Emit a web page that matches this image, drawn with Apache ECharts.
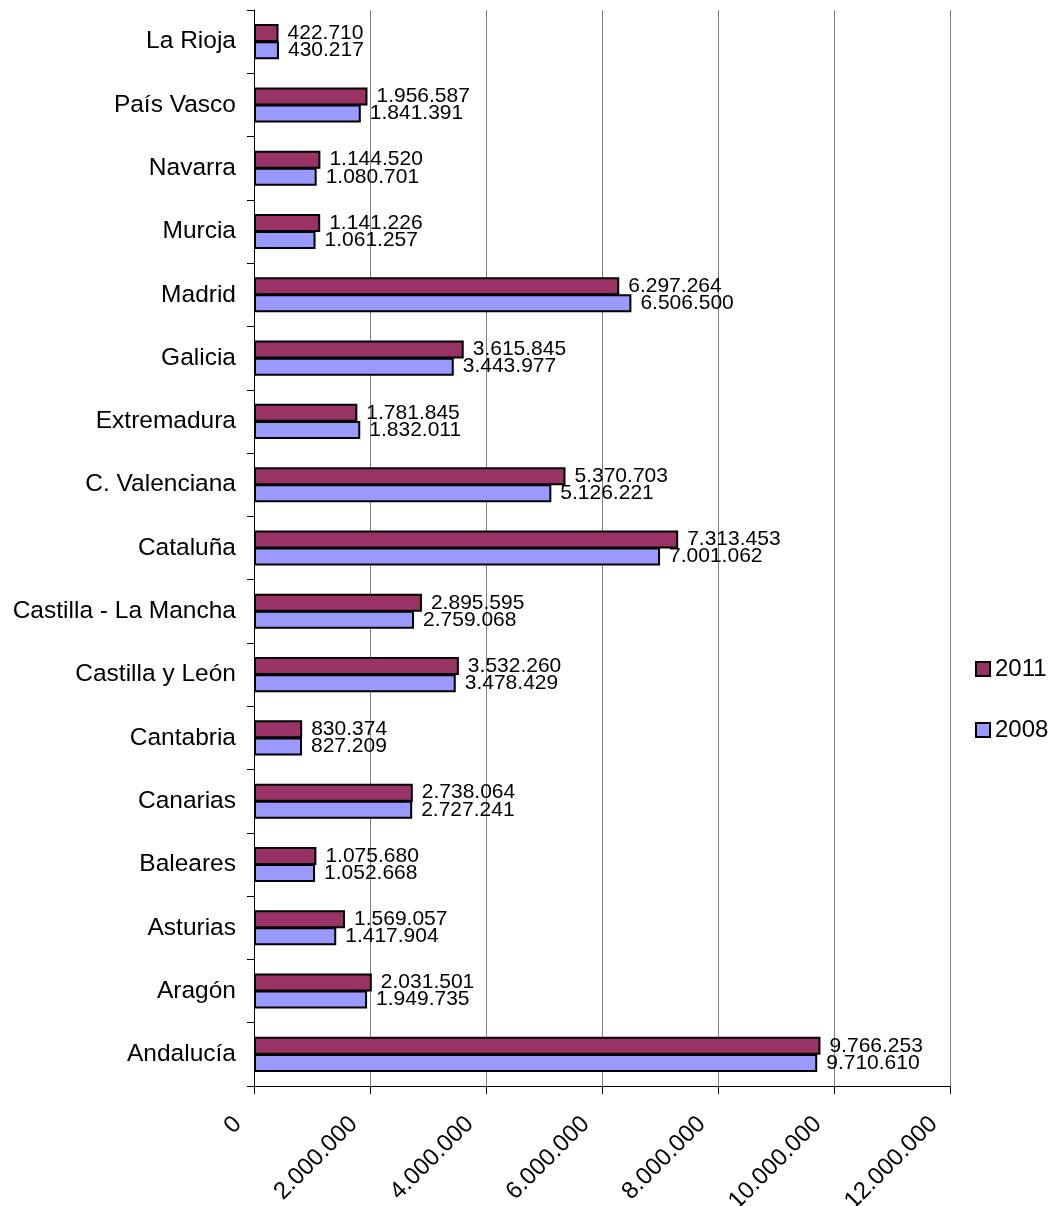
<!DOCTYPE html>
<html>
<head>
<meta charset="utf-8">
<script src="https://cdn.jsdelivr.net/npm/echarts@6/dist/echarts.min.js"></script>
<style>
  html, body { margin: 0; padding: 0; background: #fff; }
  #chart { width: 1052px; height: 1206px; }
</style>
</head>
<body>
<div id="chart"></div>
<script>
// Comunidades autónomas, listed bottom to top
const regions = [
  'Andalucía', 'Aragón', 'Asturias', 'Baleares', 'Canarias', 'Cantabria',
  'Castilla y León', 'Castilla - La Mancha', 'Cataluña', 'C. Valenciana',
  'Extremadura', 'Galicia', 'Madrid', 'Murcia', 'Navarra', 'País Vasco', 'La Rioja'
];
const values2011 = [
  9766253, 2031501, 1569057, 1075680, 2738064, 830374,
  3532260, 2895595, 7313453, 5370703,
  1781845, 3615845, 6297264, 1141226, 1144520, 1956587, 422710
];
const values2008 = [
  9710610, 1949735, 1417904, 1052668, 2727241, 827209,
  3478429, 2759068, 7001062, 5126221,
  1832011, 3443977, 6506500, 1061257, 1080701, 1841391, 430217
];
const axisTicks = [0, 2000000, 4000000, 6000000, 8000000, 10000000, 12000000];

// Spanish thousands separator
function fmt(v) {
  return String(Math.round(v)).replace(/\B(?=(\d{3})+(?!\d))/g, '.');
}

const FONT = '"Liberation Sans", Arial, sans-serif';
const chart = echarts.init(document.getElementById('chart'), null, { renderer: 'canvas' });

const labelStyle = {
  show: true,
  position: 'right',
  distance: 9,
  color: '#000',
  fontFamily: FONT,
  fontSize: 21,
  formatter: p => fmt(p.value)
};

chart.setOption({
  animation: false,
  backgroundColor: '#fff',
  grid: {
    left: 254, right: 102, top: 10, bottom: 120,
    containLabel: false,
    outerBoundsMode: 'none'
  },
  legend: {
    orient: 'vertical',
    left: 975,
    top: 657,
    padding: 0,
    itemWidth: 14,
    itemHeight: 14,
    itemGap: 37,
    icon: 'rect',
    data: ['2011', '2008'],
    textStyle: { fontFamily: FONT, fontSize: 24, color: '#000' }
  },
  xAxis: {
    type: 'value',
    min: axisTicks[0],
    max: axisTicks[axisTicks.length - 1],
    interval: 2000000,
    axisLine: { show: true, lineStyle: { color: '#000', width: 1 } },
    axisTick: { show: true, length: 8, lineStyle: { color: '#000' } },
    splitLine: { show: true, lineStyle: { color: '#808080', width: 1 } },
    axisLabel: {
      rotate: 45,
      margin: 18,
      padding: [0, 23, 0, 0],
      color: '#000',
      fontFamily: FONT,
      fontSize: 24,
      formatter: v => fmt(v)
    }
  },
  yAxis: {
    type: 'category',
    data: regions,
    axisLine: { show: true, lineStyle: { color: '#000', width: 1 } },
    axisTick: { show: true, length: 7, lineStyle: { color: '#000' } },
    splitLine: { show: false },
    axisLabel: {
      margin: 18,
      color: '#000',
      fontFamily: FONT,
      fontSize: 24.5
    }
  },
  series: [
    {
      name: '2011',
      type: 'bar',
      data: values2011,
      barWidth: 18,
      barGap: '-5%',
      itemStyle: { color: '#993366', borderColor: '#000', borderWidth: 2 },
      label: labelStyle
    },
    {
      name: '2008',
      type: 'bar',
      data: values2008,
      barWidth: 18,
      barGap: '-5%',
      itemStyle: { color: '#9999FF', borderColor: '#000', borderWidth: 2 },
      label: labelStyle
    }
  ]
});
</script>
</body>
</html>
